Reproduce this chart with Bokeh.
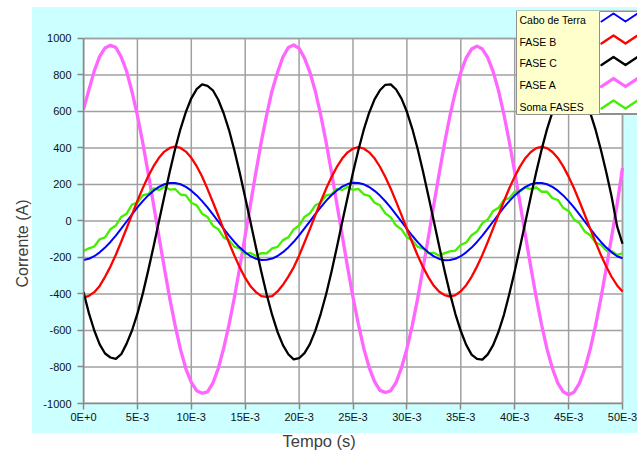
from bokeh.plotting import figure
from bokeh.models import (Range1d, FixedTicker, BoxAnnotation, Label, Title,
                          PolyAnnotation, ColumnDataSource)
from bokeh.embed import file_html
from bokeh.resources import INLINE

# ---------------- data ----------------
time_ms = [0, 0.5, 1, 1.5, 2, 2.5, 3, 3.5, 4, 4.5, 5, 5.5, 6, 6.5, 7, 7.5, 8, 8.5, 9, 9.5,
           10, 10.5, 11, 11.5, 12, 12.5, 13, 13.5, 14, 14.5, 15, 15.5, 16, 16.5, 17, 17.5,
           18, 18.5, 19, 19.5, 20, 20.5, 21, 21.5, 22, 22.5, 23, 23.5, 24, 24.5, 25, 25.5,
           26, 26.5, 27, 27.5, 28, 28.5, 29, 29.5, 30, 30.5, 31, 31.5, 32, 32.5, 33, 33.5,
           34, 34.5, 35, 35.5, 36, 36.5, 37, 37.5, 38, 38.5, 39, 39.5, 40, 40.5, 41, 41.5,
           42, 42.5, 43, 43.5, 44, 44.5, 45, 45.5, 46, 46.5, 47, 47.5, 48, 48.5, 49, 49.5, 50]

cabo_terra = [-214, -207, -193, -172, -146, -115, -80, -42, -3, 36, 74, 109, 140, 166, 187, 201, 208,
              208, 201, 187, 166, 140, 109, 74, 36, -3, -42, -80, -115, -146, -172, -193, -207, -214,
              -213, -206, -192, -171, -145, -114, -79, -41, -2, 37, 75, 110, 141, 167, 188, 202, 209,
              208, 201, 186, 165, 139, 108, 73, 35, -4, -43, -81, -116, -147, -173, -194, -208, -215,
              -214, -207, -193, -172, -146, -115, -80, -42, -3, 36, 74, 109, 140, 166, 187, 201, 208,
              208, 201, 187, 166, 140, 109, 74, 36, -3, -42, -80, -115, -146, -172, -193, -204]

fase_b = [-420, -410, -390, -356, -306, -250, -185, -114, -40, 35, 110, 180, 245, 300, 346, 380, 400,
          408, 400, 380, 346, 300, 244, 176, 104, 30, -46, -120, -190, -255, -312, -358, -390, -412,
          -416, -412, -386, -350, -305, -254, -190, -118, -45, 31, 105, 176, 240, 296, 342, 376, 396,
          404, 397, 376, 343, 297, 241, 177, 106, 32, -44, -118, -189, -253, -309, -355, -388, -406,
          -414, -406, -385, -352, -306, -250, -186, -115, -41, 34, 108, 179, 243, 299, 345, 378, 399,
          406, 399, 378, 345, 299, 243, 179, 108, 34, -42, -116, -187, -251, -307, -353, -386]

fase_c = [-390, -505, -600, -676, -726, -748, -756, -730, -672, -600, -508, -398, -272, -140, -2, 136, 270,
          394, 505, 598, 672, 722, 748, 740, 716, 664, 590, 498, 386, 262, 128, -8, -146, -280,
          -404, -515, -608, -680, -730, -758, -752, -724, -675, -602, -510, -403, -279, -145, -6, 130, 265,
          389, 500, 593, 666, 716, 746, 748, 720, 670, 598, 505, 394, 270, 136, -2, -140, -274,
          -398, -510, -603, -679, -732, -756, -760, -731, -680, -607, -514, -400, -275, -141, -3, 135, 268,
          392, 503, 596, 669, 719, 743, 745, 719, 668, 594, 500, 389, 265, 131, -30, -125]

fase_a = [612, 718, 822, 902, 948, 962, 950, 898, 820, 708, 578, 428, 262, 90, -86, -258, -424,
          -572, -705, -810, -884, -930, -944, -936, -888, -808, -698, -568, -418, -252, -80, 96, 270, 436,
          584, 715, 815, 898, 950, 964, 946, 892, 815, 712, 582, 433, 268, 95, -80, -254, -418,
          -566, -698, -803, -880, -928, -940, -930, -884, -804, -700, -572, -424, -258, -86, 90, 262, 428,
          578, 708, 814, 894, 942, 958, 942, 895, 818, 714, 583, 434, 268, 95, -82, -255, -420,
          -570, -702, -808, -888, -936, -952, -938, -890, -810, -703, -572, -422, -257, -84, 92, 290]

soma_fases = [-165, -150, -140, -100, -90, -45, -25, 22, 40, 90, 100, 140, 148, 178, 170, 188, 172,
              175, 145, 140, 100, 86, 40, 22, -26, -45, -90, -105, -142, -150, -180, -175, -192, -176,
              -178, -150, -142, -105, -90, -46, -25, 22, 42, 86, 100, 140, 146, 176, 170, 188, 170,
              176, 146, 138, 100, 86, 42, 20, -25, -46, -90, -105, -142, -150, -178, -174, -190, -176,
              -166, -162, -130, -118, -78, -58, -12, 8, 55, 72, 115, 125, 160, 162, 184, 174, 184,
              160, 160, 125, 115, 72, 55, 8, -12, -58, -78, -118, -130, -162, -166, -186, -178]

series_names = ["Cabo de Terra", "FASE B", "FASE C", "FASE A", "Soma FASES"]
x_ticks = [0, 5, 10, 15, 20, 25, 30, 35, 40, 45, 50]
x_tick_labels = ["0E+0", "5E-3", "10E-3", "15E-3", "20E-3", "25E-3",
                 "30E-3", "35E-3", "40E-3", "45E-3", "50E-3"]
y_ticks = [-1000, -800, -600, -400, -200, 0, 200, 400, 600, 800, 1000]
y_tick_labels = ["-1000", "-800", "-600", "-400", "-200", "0",
                 "200", "400", "600", "800", "1000"]
x_title = "Tempo (s)"
y_title = "Corrente (A)"

# ---------------- styling ----------------
FONT = "Liberation Sans"
CYAN = "#ccffff"
GRID = "#a0a0a0"
colors = {"Cabo de Terra": "#0000ff", "FASE B": "#ff0000", "FASE C": "#000000",
          "FASE A": "#ff66ff", "Soma FASES": "#44ee00"}
widths = {"Cabo de Terra": 2, "FASE B": 2.3, "FASE C": 2.3, "FASE A": 3.3, "Soma FASES": 2.3}
values = {"Cabo de Terra": cabo_terra, "FASE B": fase_b, "FASE C": fase_c,
          "FASE A": fase_a, "Soma FASES": soma_fases}

x0, x1 = x_ticks[0], x_ticks[-1]
y0, y1 = y_ticks[0], y_ticks[-1]
# the frame is extended to the right / top so that the legend (which overlaps the
# chart border, as in the original) is not clipped; the plot area itself is x0..x1, y0..y1
PX_PER_X = 539 / (x1 - x0)
PX_PER_Y = 366 / (y1 - y0)
x_end = x1 + 15 / PX_PER_X
y_end = y1 + 28 / PX_PER_Y

p = figure(width=637, height=453, output_backend="svg", toolbar_location=None,
           x_range=Range1d(x0, x_end), y_range=Range1d(y0, y_end),
           min_border_left=83, min_border_right=0, min_border_top=10, min_border_bottom=49)
p.border_fill_color = None
p.background_fill_color = CYAN
p.outline_line_color = None
p.styles = {"background": "linear-gradient(#ccffff, #ccffff) 32px 7px / 605px 426px no-repeat, #ffffff"}
p.xgrid.visible = False
p.ygrid.visible = False

for ax in (p.xaxis, p.yaxis):
    ax.axis_line_color = "#888888"
    ax.axis_line_width = 1.5
    ax.major_tick_line_color = "#888888"
    ax.major_tick_line_width = 1.5
    ax.major_tick_out = 6
    ax.major_tick_in = 0
    ax.minor_tick_line_color = None
    ax.major_label_text_font = FONT
    ax.major_label_text_font_size = "11px"
    ax.major_label_text_color = "#111111"

p.xaxis.ticker = FixedTicker(ticks=x_ticks)
p.xaxis.bounds = (x0, x1)
p.xaxis.major_label_overrides = {t: lab for t, lab in zip(x_ticks, x_tick_labels)}
p.xaxis.major_label_standoff = 1
p.yaxis.ticker = FixedTicker(ticks=y_ticks)
p.yaxis.bounds = (y0, y1)
p.yaxis.major_label_overrides = {t: lab for t, lab in zip(y_ticks, y_tick_labels)}
p.yaxis.major_label_standoff = 6

# white plot area with its border
p.add_layout(BoxAnnotation(left=x0, right=x1, bottom=y0, top=y1,
                           fill_color="white", fill_alpha=1,
                           line_color=GRID, line_alpha=1, line_width=1.5, level="image"))

# grid lines (plot area only)
p.segment(x0=x_ticks, y0=[y0] * len(x_ticks), x1=x_ticks, y1=[y1] * len(x_ticks),
          line_color=GRID, line_width=1.5)
p.segment(x0=[x0] * len(y_ticks), y0=y_ticks, x1=[x1] * len(y_ticks), y1=y_ticks,
          line_color=GRID, line_width=1.5)

# series (draw order bottom -> top)
src = ColumnDataSource(dict(t=time_ms, **{n: values[n] for n in series_names}))
for name in ["FASE A", "Soma FASES", "Cabo de Terra", "FASE B", "FASE C"]:
    p.line("t", name, source=src, line_color=colors[name], line_width=widths[name],
           line_join="round")

# axis titles
p.add_layout(Title(text=y_title, align="left", offset=116, standoff=19,
                   text_font=FONT, text_font_size="16px", text_font_style="normal",
                   text_color="#404040"), "left")
p.add_layout(Title(text=x_title, align="left", offset=199, standoff=8,
                   text_font=FONT, text_font_size="16.5px", text_font_style="normal",
                   text_color="#404040"), "below")

# legend (labels left, sample lines right)
p.add_layout(BoxAnnotation(left=516, right=640, top=10, bottom=114,
                           left_units="canvas", right_units="canvas",
                           top_units="canvas", bottom_units="canvas",
                           fill_color="#ffffcc", fill_alpha=1, line_color="#909090",
                           line_alpha=1, line_width=1, level="overlay"))
p.add_layout(BoxAnnotation(left=599, right=640, top=11, bottom=113,
                           left_units="canvas", right_units="canvas",
                           top_units="canvas", bottom_units="canvas",
                           fill_color="white", fill_alpha=1, line_color="#909090",
                           line_alpha=1, line_width=1, level="overlay"))
row_y = [19, 41, 62.5, 84, 106]
for name, yy in zip(series_names, row_y):
    p.add_layout(Label(x=519, y=yy, x_units="canvas", y_units="canvas", text=name,
                       text_align="left", text_baseline="middle",
                       text_font=FONT, text_font_size="10.5px",
                       text_color="#000000", level="overlay"))
    zy = yy - 2
    p.add_layout(PolyAnnotation(xs=[601, 613, 625, 637, 625, 613],
                                ys=[zy + 4, zy - 4, zy + 4, zy - 4, zy + 4, zy - 4],
                                xs_units="canvas", ys_units="canvas",
                                fill_alpha=0, line_color=colors[name], line_alpha=1,
                                line_width=widths[name], line_join="round",
                                level="overlay"))

open("out.html", "w").write(file_html(p, INLINE))
